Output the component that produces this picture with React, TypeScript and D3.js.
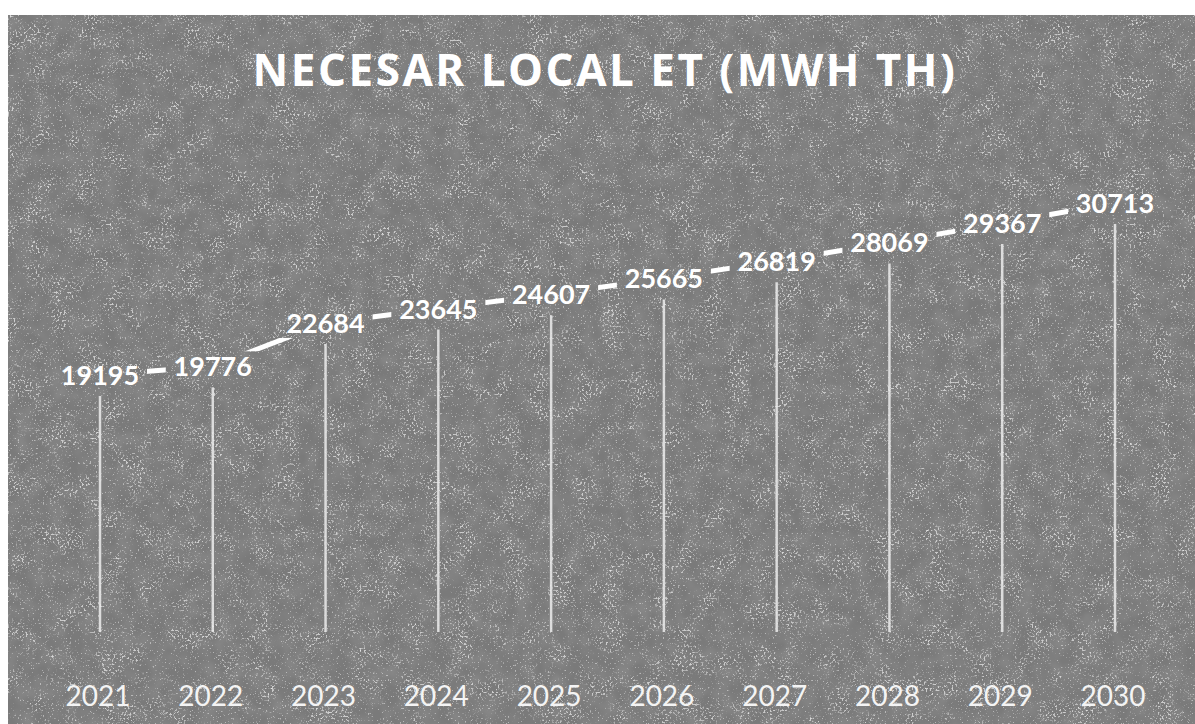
import React from "react";
import * as d3 from "d3";

const years = ["2021", "2022", "2023", "2024", "2025", "2026", "2027", "2028", "2029", "2030"];
const values = [19195, 19776, 22684, 23645, 24607, 25665, 26819, 28069, 29367, 30713];
const title = "NECESAR LOCAL ET (MWH TH)";

const W = 1195;
const H = 724;

export default function App() {
  const x = d3.scalePoint<string>().domain(years).range([100, 1115]);
  const y = d3.scaleLinear().domain([0, 35000]).range([661.6, 139]);
  const baseY = 632;
  const pts: [number, number][] = years.map((yr, i) => [x(yr) as number, y(values[i])]);
  const line = d3.line<[number, number]>().x((d) => d[0]).y((d) => d[1]);
  const font = "Lato, 'Open Sans', 'DejaVu Sans', sans-serif";
  const titleFont = "'Open Sans', Lato, 'DejaVu Sans', sans-serif";
  const halfW = 47;
  const halfH = 15;

  return (
    <div style={{ position: "absolute", left: 0, top: 0, width: W, height: H, background: "#fff" }}>
      <svg width={W} height={H} style={{ display: "block" }}>
        <defs>
          <filter id="speck" x="0" y="0" width="100%" height="100%" filterUnits="objectBoundingBox">
            <feTurbulence type="fractalNoise" baseFrequency="0.5" numOctaves="3" seed="7" result="n" />
            <feColorMatrix
              in="n"
              type="matrix"
              values="0 0 0 0 1  0 0 0 0 1  0 0 0 0 1  10 0 0 0 -5.7"
              result="sp"
            />
            <feTurbulence type="fractalNoise" baseFrequency="0.04" numOctaves="3" seed="11" result="m" />
            <feColorMatrix
              in="m"
              type="matrix"
              values="0 0 0 0 1  0 0 0 0 1  0 0 0 0 1  5 0 0 0 -2.4"
              result="mk"
            />
            <feComposite in="sp" in2="mk" operator="in" />
          </filter>
          <filter id="speck2" x="0" y="0" width="100%" height="100%" filterUnits="objectBoundingBox">
            <feTurbulence type="fractalNoise" baseFrequency="0.6" numOctaves="2" seed="21" result="n" />
            <feColorMatrix
              in="n"
              type="matrix"
              values="0 0 0 0 1  0 0 0 0 1  0 0 0 0 1  10 0 0 0 -6.5"
            />
          </filter>
          <filter id="blotch" x="0" y="0" width="100%" height="100%" filterUnits="objectBoundingBox">
            <feTurbulence type="fractalNoise" baseFrequency="0.06" numOctaves="2" seed="3" result="n" />
            <feColorMatrix
              in="n"
              type="matrix"
              values="0 0 0 0 0.6  0 0 0 0 0.6  0 0 0 0 0.6  0.3 0 0 0 -0.1"
            />
          </filter>
          <mask id="lineMask">
            <rect x={0} y={0} width={W} height={H} fill="white" />
            {pts.map((p, i) => (
              <rect key={i} x={p[0] - halfW} y={p[1] - halfH} width={halfW * 2} height={halfH * 2} fill="black" />
            ))}
          </mask>
        </defs>
        <rect x={8} y={15} width={W - 8} height={H - 15} fill="#7a7a7a" />
        <rect x={8} y={15} width={W - 8} height={H - 15} filter="url(#blotch)" />
        <rect x={8} y={15} width={W - 8} height={H - 15} filter="url(#speck)" opacity={0.6} />
        <rect x={8} y={15} width={W - 8} height={H - 15} filter="url(#speck2)" opacity={0.45} />

        <text
          x={605}
          y={86}
          textAnchor="middle"
          fill="#ffffff"
          style={{ fontFamily: titleFont, fontWeight: 700, fontSize: 44, letterSpacing: 2.5 }}
        >
          {title}
        </text>

        {pts.map((p, i) => (
          <line
            key={"d" + i}
            x1={p[0]}
            x2={p[0]}
            y1={p[1] + 21}
            y2={baseY}
            stroke="#ececec"
            strokeOpacity={0.85}
            strokeWidth={2.5}
          />
        ))}

        <path d={line(pts) || ""} fill="none" stroke="#ffffff" strokeWidth={5} mask="url(#lineMask)" />

        {pts.map((p, i) => (
          <text
            key={"l" + i}
            x={p[0]}
            y={p[1] + 10}
            textAnchor="middle"
            fill="#ffffff"
            style={{ fontFamily: font, fontWeight: 700, fontSize: 27 }}
          >
            {values[i]}
          </text>
        ))}

        {years.map((yr) => (
          <text
            key={"t" + yr}
            x={(x(yr) as number) - 2}
            y={706}
            textAnchor="middle"
            fill="#f4f4f4"
            style={{ fontFamily: font, fontWeight: 400, fontSize: 28 }}
          >
            {yr}
          </text>
        ))}
      </svg>
    </div>
  );
}
